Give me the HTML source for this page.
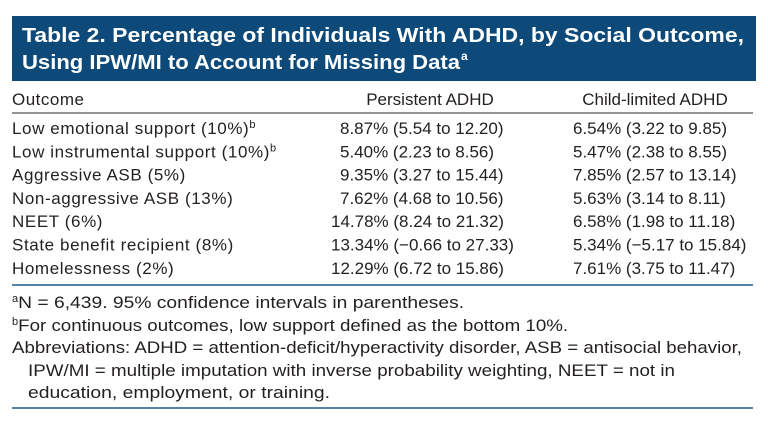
<!DOCTYPE html>
<html><head><meta charset="utf-8"><style>
html,body{margin:0;padding:0;background:#fff;width:768px;height:425px;overflow:hidden}
svg{display:block;font-family:"Liberation Sans",Arial,sans-serif}
</style></head><body>
<svg id="t" width="768" height="425" viewBox="0 0 768 425">
<rect x="12" y="16" width="744" height="65" fill="#0d4a7a"/>
<text x="22" y="42" fill="#fff" font-size="20.5" font-weight="bold" textLength="722" lengthAdjust="spacingAndGlyphs">Table 2. Percentage of Individuals With ADHD, by Social Outcome,</text>
<text x="22" y="69" fill="#fff" font-size="20.5" font-weight="bold" textLength="438" lengthAdjust="spacingAndGlyphs">Using IPW/MI to Account for Missing Data</text>
<text x="461" y="60" fill="#fff" font-size="12" font-weight="bold">a</text>
<g font-size="17" fill="#231f20">
<text x="12" y="105" letter-spacing="0.5">Outcome</text>
<text x="430" y="105" text-anchor="middle">Persistent ADHD</text>
<text x="655" y="105" text-anchor="middle">Child-limited ADHD</text>
</g>
<line x1="12" x2="753" y1="113" y2="113" stroke="#555" stroke-width="1.2"/>
<g id="rows" font-size="17" fill="#231f20"></g>
<line x1="12" x2="753" y1="285" y2="285" stroke="#1f5a8c" stroke-width="1.5"/>
<g font-size="17" fill="#231f20">
<text x="12" y="308"><tspan font-size="11" dy="-6">a</tspan><tspan dy="6" textLength="446" lengthAdjust="spacingAndGlyphs">N = 6,439. 95% confidence intervals in parentheses.</tspan></text>
<text x="12" y="331"><tspan font-size="11" dy="-6">b</tspan><tspan dy="6" textLength="550" lengthAdjust="spacingAndGlyphs">For continuous outcomes, low support defined as the bottom 10%.</tspan></text>
<text x="12" y="353" textLength="730" lengthAdjust="spacingAndGlyphs">Abbreviations: ADHD = attention-deficit/hyperactivity disorder, ASB = antisocial behavior,</text>
<text x="28" y="376" textLength="647" lengthAdjust="spacingAndGlyphs">IPW/MI = multiple imputation with inverse probability weighting, NEET = not in</text>
<text x="28" y="398" textLength="302" lengthAdjust="spacingAndGlyphs">education, employment, or training.</text>
</g>
<line x1="12" x2="753" y1="408" y2="408" stroke="#1f5a8c" stroke-width="1.5"/>
</svg>
<script>
const outcomes=["Low emotional support (10%)","Low instrumental support (10%)","Aggressive ASB (5%)","Non-aggressive ASB (13%)","NEET (6%)","State benefit recipient (8%)","Homelessness (2%)"];
const supers=["b","b","","","","",""];
const persistent=["8.87% (5.54 to 12.20)","5.40% (2.23 to 8.56)","9.35% (3.27 to 15.44)","7.62% (4.68 to 10.56)","14.78% (8.24 to 21.32)","13.34% (\u22120.66 to 27.33)","12.29% (6.72 to 15.86)"];
const childLimited=["6.54% (3.22 to 9.85)","5.47% (2.38 to 8.55)","7.85% (2.57 to 13.14)","5.63% (3.14 to 8.11)","6.58% (1.98 to 11.18)","5.34% (\u22125.17 to 15.84)","7.61% (3.75 to 11.47)"];
const NS="http://www.w3.org/2000/svg";
const g=document.getElementById('rows');
outcomes.forEach((o,i)=>{
  const y=134+i*23.3;
  const a=document.createElementNS(NS,'text');
  a.setAttribute('x',12);a.setAttribute('y',y);
  a.setAttribute('letter-spacing','0.6');
  
  
  a.textContent=o;
  if(supers[i]){const s=document.createElementNS(NS,'tspan');s.setAttribute('font-size','11');s.setAttribute('dy','-6');s.textContent=supers[i];a.appendChild(s);}
  g.appendChild(a);
  const p=document.createElementNS(NS,'text');
  p.setAttribute('x',persistent[i].indexOf('.')===1?340:331);p.setAttribute('y',y);
  
  
  p.textContent=persistent[i];g.appendChild(p);
  const c=document.createElementNS(NS,'text');
  c.setAttribute('x',573);c.setAttribute('y',y);
  
  
  c.textContent=childLimited[i];g.appendChild(c);
});
</script>
</body></html>
